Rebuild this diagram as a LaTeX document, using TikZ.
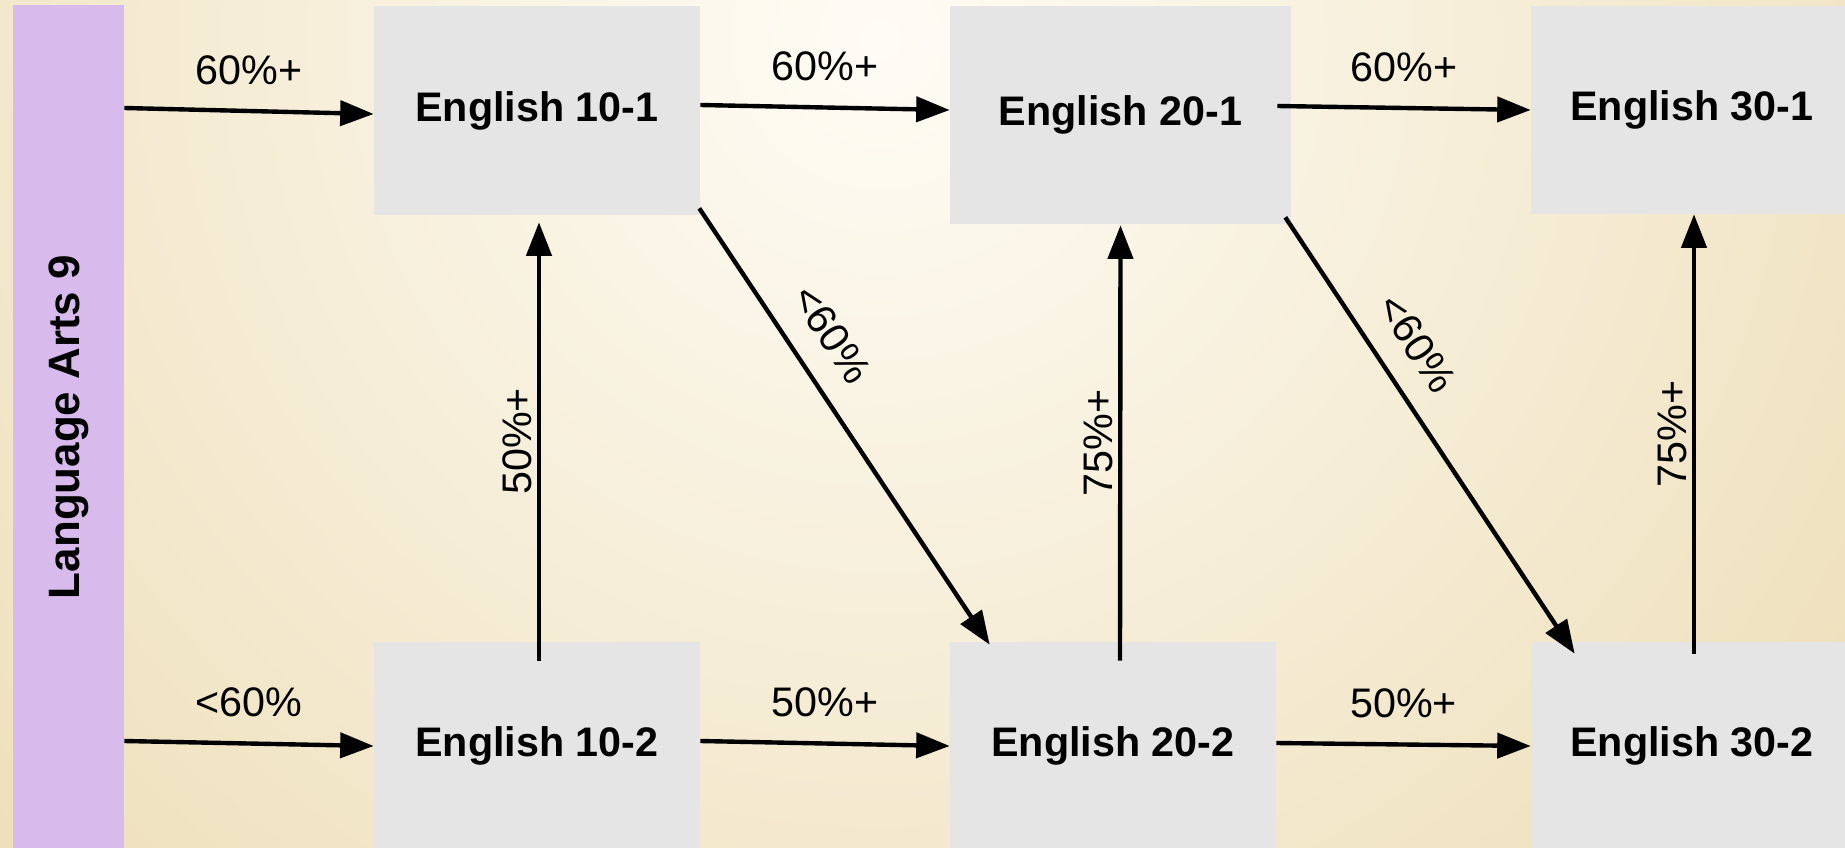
\documentclass[tikz,border=0pt]{standalone}
\usepackage{fontspec}
\setmainfont{Liberation Sans}
\usetikzlibrary{positioning,calc,arrows.meta}

\definecolor{parch}{RGB}{232,212,163}
\definecolor{parchlight}{RGB}{254,252,245}
\definecolor{lavender}{RGB}{216,187,236}
\definecolor{boxgray}{RGB}{229,229,229}

\begin{document}
\begin{tikzpicture}[
  x=0.02cm, y=0.02cm,
  >={Triangle[length=0.67cm, width=0.5cm]},
  arr/.style={->, line width=2.5pt},
  course/.style={rectangle, fill=boxgray, inner sep=0pt, font=\fontsize{23.5}{28}\selectfont\bfseries},
  lbl/.style={font=\fontsize{23.5}{28}\selectfont, inner sep=2pt}
]

% Canvas and parchment background
\useasboundingbox (0,0) rectangle (1845,-848);
\clip (0,0) rectangle (1845,-848);
\fill[parch] (0,0) rectangle (1845,-848);
\shade[inner color=parchlight, outer color=parch] (880,-40) circle (1700);

% Grade 9 bar
\node[fill=lavender, minimum width=2.22cm, minimum height=17.1cm, inner sep=0pt] (lang) at (68.5,-432.5) {};
\node[rotate=90, font=\fontsize{25}{30}\selectfont\bfseries] (langtxt) at (68.5,-427) {Language Arts 9};

% Dash-1 stream (top)
\node[course, minimum width=6.52cm, minimum height=4.18cm] (e101) at (537,-110.5) {English 10-1};
\node[course, minimum width=6.82cm, minimum height=4.36cm] (e201) at (1120.5,-115) {English 20-1};
\node[course, minimum width=6.44cm, minimum height=4.16cm] (e301) at (1692,-110) {English 30-1};

% Dash-2 stream (bottom)
\node[course, minimum width=6.52cm, minimum height=4.16cm] (e102) at (537,-746) {English 10-2};
\node[course, minimum width=6.52cm, minimum height=4.16cm] (e202) at (1113,-746) {English 20-2};
\node[course, minimum width=6.44cm, minimum height=4.16cm] (e302) at (1692,-746) {English 30-2};

% Entry from grade 9
\draw[arr] ($(lang.east |- e101.west)+(0,2.5)$) -- node[lbl, midway, above=0.41cm] {60\%+} ($(e101.west)+(0,-3.5)$);
\draw[arr] ($(lang.east |- e102.west)+(0,5)$) -- node[lbl, midway, above=0.41cm] {<60\%} (e102.west);

% Across the top
\draw[arr] ($(e101.east)+(0,5.5)$) -- node[lbl, midway, above=0.41cm] {60\%+} ($(e201.west)+(0,5)$);
\draw[arr] ($(e201.east)+(-14,9)$) -- node[lbl, midway, above=0.41cm] {60\%+} (e301.west);

% Across the bottom
\draw[arr] ($(e102.east)+(0,5)$) -- node[lbl, midway, above=0.41cm] {50\%+} (e202.west);
\draw[arr] ($(e202.east)+(0,3)$) -- node[lbl, midway, above=0.41cm] {50\%+} (e302.west);

% Moving up a stream
\draw[arr] ($(e102.north)+(2,-19)$) -- node[lbl, sloped, midway, above=1pt] {50\%+} ($(e101.south)+(2,-7)$);
\draw[arr] ($(e202.north)+(7,-19)$) -- node[lbl, sloped, midway, above=1pt] {75\%+} ($(e201.south)+(0,-1)$);
\draw[arr] ($(e302.north)+(2,-12)$) -- node[lbl, sloped, midway, above=1pt] {75\%+} ($(e301.south)+(2,0)$);

% Moving down a stream
\draw[arr] ($(e101.south east)+(-1,7)$) -- node[lbl, sloped, pos=0.34, above=0.4cm] {<60\%} ($(e202.north west)+(40,-3)$);
\draw[arr] ($(e201.south east)+(-6,7)$) -- node[lbl, sloped, pos=0.34, above=0.4cm] {<60\%} ($(e302.north west)+(44,-12)$);

\end{tikzpicture}
\end{document}
